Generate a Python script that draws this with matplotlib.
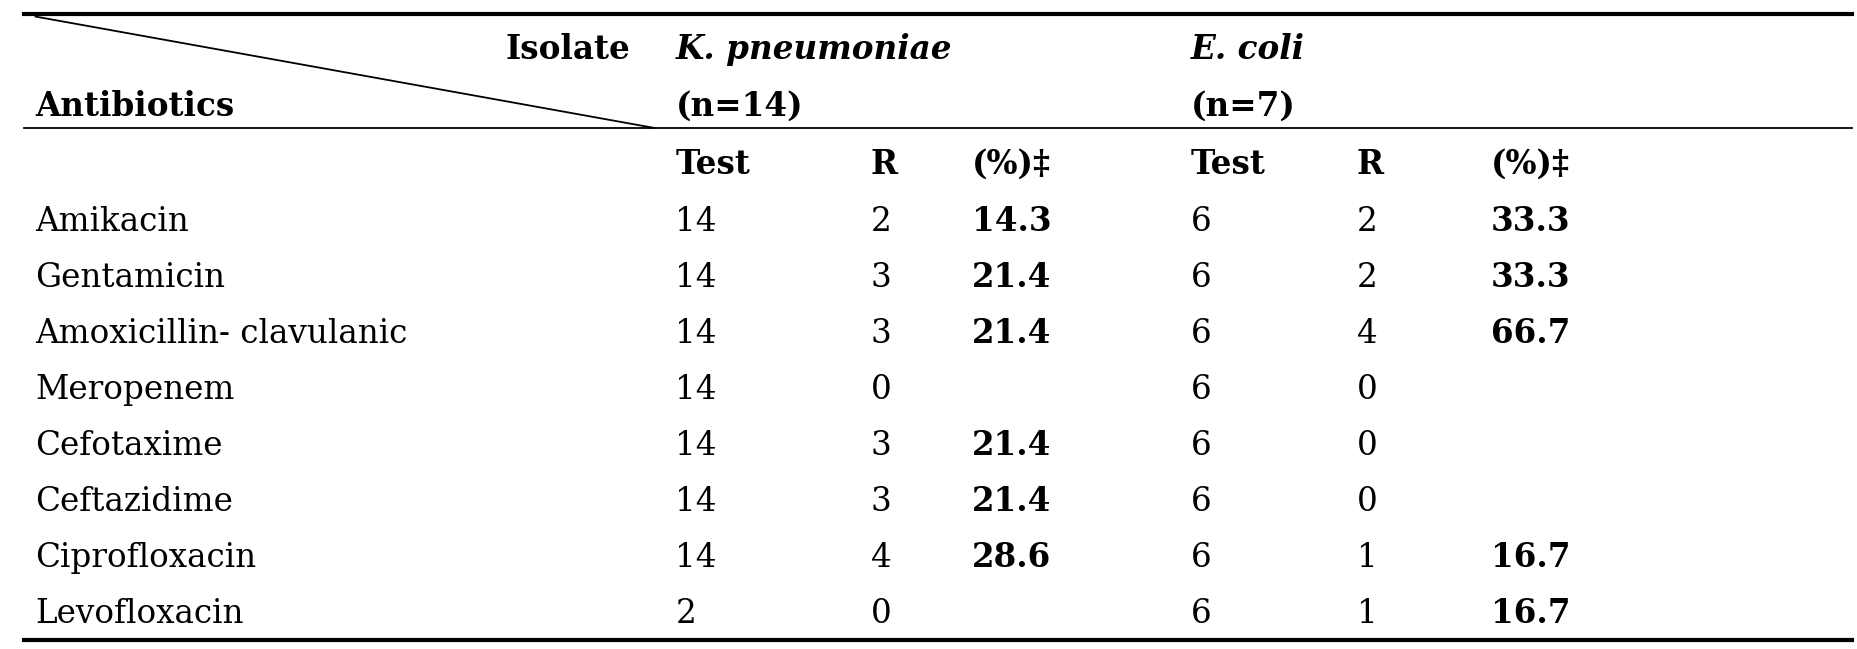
import matplotlib.pyplot as plt

antibiotics = ['Amikacin', 'Gentamicin', 'Amoxicillin- clavulanic', 'Meropenem',
               'Cefotaxime', 'Ceftazidime', 'Ciprofloxacin', 'Levofloxacin']
kp_test = [14, 14, 14, 14, 14, 14, 14, 2]
kp_r = [2, 3, 3, 0, 3, 3, 4, 0]
kp_pct = ['14.3', '21.4', '21.4', '', '21.4', '21.4', '28.6', '']
ec_test = [6, 6, 6, 6, 6, 6, 6, 6]
ec_r = [2, 2, 4, 0, 0, 0, 1, 1]
ec_pct = ['33.3', '33.3', '66.7', '', '', '', '16.7', '16.7']

FONT = ['DejaVu Serif']
FS = 23.5

fig = plt.figure(figsize=(18.58, 6.49), dpi=100)
ax = fig.add_axes([0, 0, 1, 1])
ax.set_xlim(0, 1568)  # layout measured on a 1568 px wide view
ax.set_ylim(548, 0)
ax.axis('off')


def txt(x, y, s, bold=False, italic=False, ha='left'):
    ax.text(x, y, s, fontsize=FS, family=FONT, ha=ha, va='baseline',
            fontweight='bold' if bold else 'normal',
            fontstyle='italic' if italic else 'normal')


# rules
ax.plot([20, 1563], [12, 12], color='black', lw=3)
ax.plot([20, 1563], [108, 108], color='black', lw=1.3)
ax.plot([20, 1563], [540, 540], color='black', lw=3)
ax.plot([30, 552], [14, 108], color='black', lw=1.3)

# header
txt(532, 50, 'Isolate', bold=True, ha='right')
txt(30, 98, 'Antibiotics', bold=True)
txt(570, 50, 'K. pneumoniae', bold=True, italic=True)
txt(570, 98, '(n=14)', bold=True)
txt(1005, 50, 'E. coli', bold=True, italic=True)
txt(1005, 98, '(n=7)', bold=True)

cols = [570, 735, 820, 1005, 1145, 1258]
for x, h in zip(cols, ['Test', 'R', '(%)‡', 'Test', 'R', '(%)‡']):
    txt(x, 147, h, bold=True)

for i, name in enumerate(antibiotics):
    y = 195 + i * 47.3
    txt(30, y, name)
    txt(cols[0], y, str(kp_test[i]))
    txt(cols[1], y, str(kp_r[i]))
    txt(cols[2], y, kp_pct[i], bold=True)
    txt(cols[3], y, str(ec_test[i]))
    txt(cols[4], y, str(ec_r[i]))
    txt(cols[5], y, ec_pct[i], bold=True)

fig.savefig('out.png', dpi=100)
